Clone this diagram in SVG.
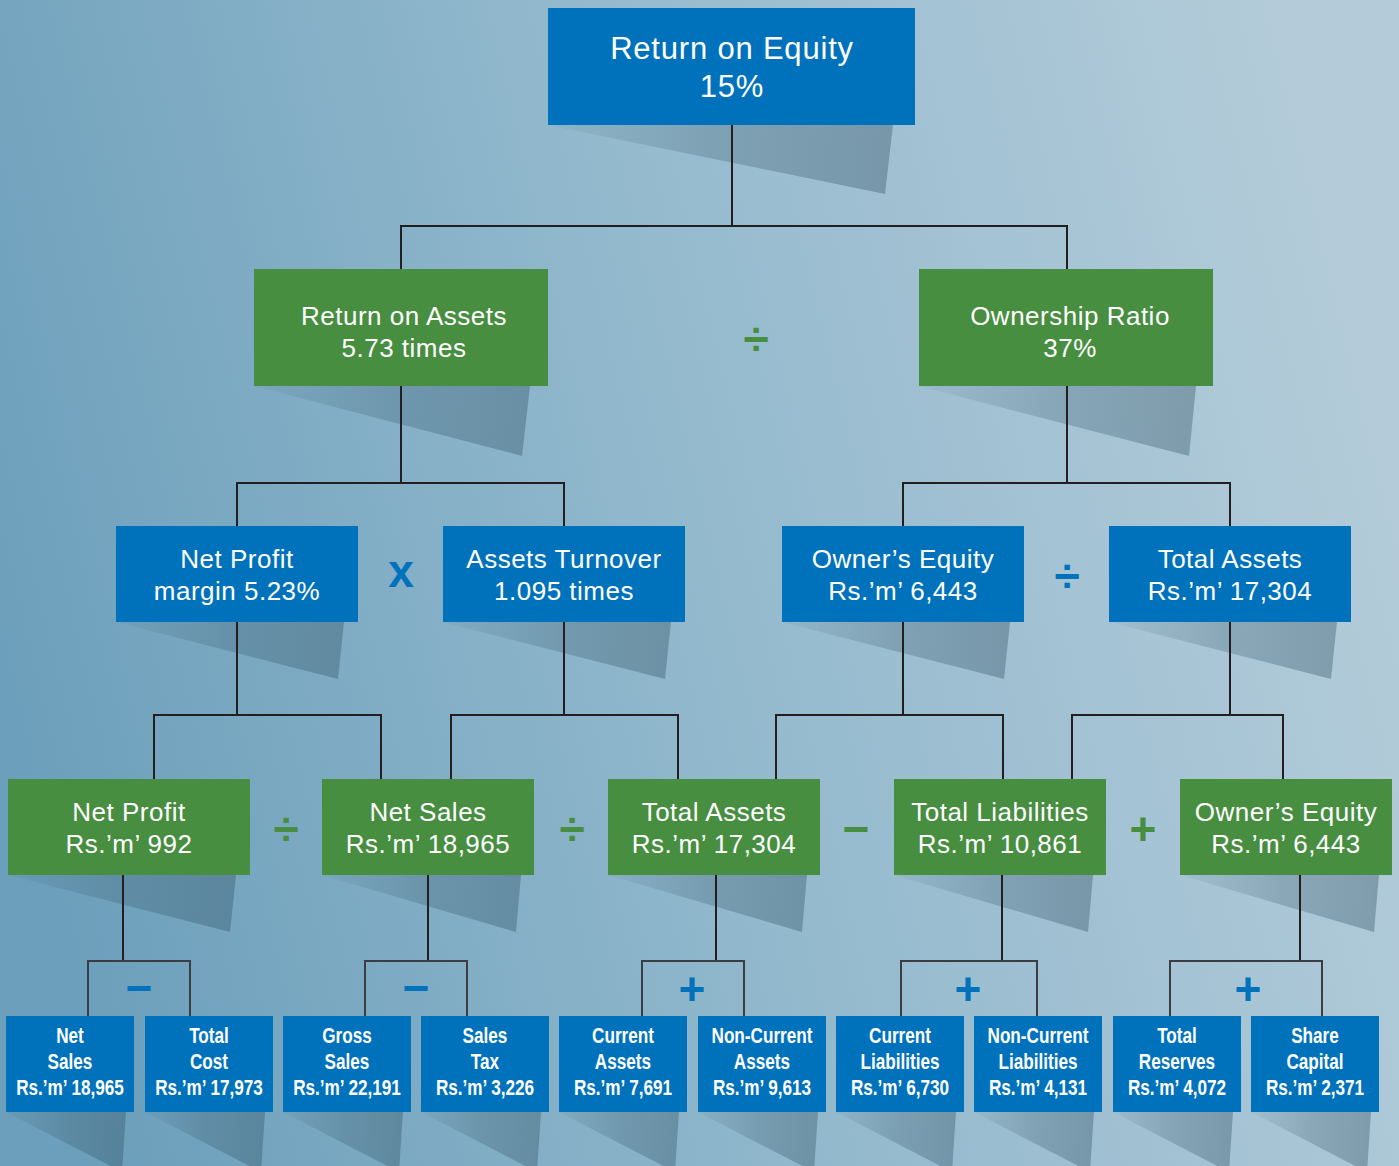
<svg xmlns="http://www.w3.org/2000/svg" width="1399" height="1166" viewBox="0 0 1399 1166">
<defs>
<linearGradient id="bg" x1="0" y1="0.6" x2="1" y2="0.4">
<stop offset="0" stop-color="#6c9fbb"/>
<stop offset="0.5" stop-color="#93b9cd"/>
<stop offset="1" stop-color="#b4ccda"/>
</linearGradient>
<linearGradient id="sh" x1="0" y1="0" x2="1" y2="0">
<stop offset="0" stop-color="#2c4d5f" stop-opacity="0.04"/>
<stop offset="0.5" stop-color="#2c4d5f" stop-opacity="0.25"/>
<stop offset="1" stop-color="#2c4d5f" stop-opacity="0.36"/>
</linearGradient>
<style>
.b{fill:#0072bc}
.g{fill:#478e41}
.s{fill:url(#sh)}
.t1{font-family:"Liberation Sans",Arial,sans-serif;font-size:31px;fill:#fff;text-anchor:middle;letter-spacing:0.8px}
.t{font-family:"Liberation Sans",Arial,sans-serif;font-size:26px;fill:#fff;text-anchor:middle;letter-spacing:0.5px}
.tn{font-family:"Liberation Sans",Arial,sans-serif;font-weight:bold;font-size:22px;fill:#fff;text-anchor:middle}
.op{font-family:"Liberation Sans",Arial,sans-serif;font-weight:bold;font-size:46px;text-anchor:middle}
.ob{fill:#0072bc}
.og{fill:#478e41}
.c{fill:none;stroke:#231f20;stroke-width:2}
.c2{fill:none;stroke:#3a3d42;stroke-width:2}
</style>
</defs>
<rect x="0" y="0" width="1399" height="1166" fill="url(#bg)"/>

<g id="shadows">
<polygon class="s" points="548,125 893,125 885,194"/>
<polygon class="s" points="254,386 530,386 522,456"/>
<polygon class="s" points="919,386 1196,386 1189,456"/>
<polygon class="s" points="116,622 344,622 338,679"/>
<polygon class="s" points="443,622 671,622 665,679"/>
<polygon class="s" points="782,622 1010,622 1004,679"/>
<polygon class="s" points="1109,622 1337,622 1331,679"/>
<polygon class="s" points="8,875 236,875 230,932"/>
<polygon class="s" points="322,875 521,875 516,932"/>
<polygon class="s" points="608,875 807,875 802,932"/>
<polygon class="s" points="894,875 1093,875 1088,932"/>
<polygon class="s" points="1180,875 1379,875 1374,932"/>
<polygon class="s" points="6,1112 126,1112 122,1172"/>
<polygon class="s" points="145,1112 265,1112 261,1172"/>
<polygon class="s" points="283,1112 403,1112 399,1172"/>
<polygon class="s" points="421,1112 541,1112 537,1172"/>
<polygon class="s" points="559,1112 679,1112 675,1172"/>
<polygon class="s" points="698,1112 818,1112 814,1172"/>
<polygon class="s" points="836,1112 956,1112 952,1172"/>
<polygon class="s" points="974,1112 1094,1112 1090,1172"/>
<polygon class="s" points="1113,1112 1233,1112 1229,1172"/>
<polygon class="s" points="1251,1112 1371,1112 1367,1172"/>
</g>

<g id="connectors">
<path class="c" d="M732,125 V226 M401,269 V226 H1067 V269"/>
<path class="c" d="M401,386 V483 M237,526 V483 H564 V526"/>
<path class="c" d="M1067,386 V483 M903,526 V483 H1230 V526"/>
<path class="c" d="M237,622 V715 M154,779 V715 H381 V779"/>
<path class="c" d="M564,622 V715 M451,779 V715 H678 V779"/>
<path class="c" d="M903,622 V715 M776,779 V715 H1003 V779"/>
<path class="c" d="M1230,622 V715 M1072,779 V715 H1283 V779"/>
<path class="c" d="M123,875 V961"/>
<path class="c2" d="M88,1016 V961 H190 V1016"/>
<path class="c" d="M428,875 V961"/>
<path class="c2" d="M365,1016 V961 H467 V1016"/>
<path class="c" d="M716,875 V961"/>
<path class="c2" d="M642,1016 V961 H744 V1016"/>
<path class="c" d="M1002,875 V961"/>
<path class="c2" d="M901,1016 V961 H1037 V1016"/>
<path class="c" d="M1300,875 V961"/>
<path class="c2" d="M1170,1016 V961 H1322 V1016"/>
</g>

<g id="operators">
<text class="op og" x="756" y="355">÷</text>
<text class="op ob" x="401" y="587">x</text>
<text class="op ob" x="1067" y="592">÷</text>
<text class="op og" x="286" y="845">÷</text>
<text class="op og" x="572" y="845">÷</text>
<text class="op og" x="856" y="845">−</text>
<text class="op og" x="1143" y="845">+</text>
<text class="op ob" x="139" y="1004">−</text>
<text class="op ob" x="416" y="1004">−</text>
<text class="op ob" x="692" y="1005">+</text>
<text class="op ob" x="968" y="1005">+</text>
<text class="op ob" x="1248" y="1005">+</text>
</g>

<g id="n-roe"><rect class="b" x="548" y="8" width="367" height="117"/><text class="t1" x="732" y="59">Return on Equity</text><text class="t1" x="732" y="97">15%</text></g>

<g id="n-roa"><rect class="g" x="254" y="269" width="294" height="117"/><text class="t" x="404" y="325">Return on Assets</text><text class="t" x="404" y="357">5.73 times</text></g>
<g id="n-own"><rect class="g" x="919" y="269" width="294" height="117"/><text class="t" x="1070" y="325">Ownership Ratio</text><text class="t" x="1070" y="357">37%</text></g>

<g id="n-npm"><rect class="b" x="116" y="526" width="242" height="96"/><text class="t" x="237" y="568">Net Profit</text><text class="t" x="237" y="600">margin 5.23%</text></g>
<g id="n-at"><rect class="b" x="443" y="526" width="242" height="96"/><text class="t" x="564" y="568">Assets Turnover</text><text class="t" x="564" y="600">1.095 times</text></g>
<g id="n-oe1"><rect class="b" x="782" y="526" width="242" height="96"/><text class="t" x="903" y="568">Owner’s Equity</text><text class="t" x="903" y="600">Rs.’m’ 6,443</text></g>
<g id="n-ta1"><rect class="b" x="1109" y="526" width="242" height="96"/><text class="t" x="1230" y="568">Total Assets</text><text class="t" x="1230" y="600">Rs.’m’ 17,304</text></g>

<g id="n-np"><rect class="g" x="8" y="779" width="242" height="96"/><text class="t" x="129" y="821">Net Profit</text><text class="t" x="129" y="853">Rs.’m’ 992</text></g>
<g id="n-ns"><rect class="g" x="322" y="779" width="212" height="96"/><text class="t" x="428" y="821">Net Sales</text><text class="t" x="428" y="853">Rs.’m’ 18,965</text></g>
<g id="n-ta2"><rect class="g" x="608" y="779" width="212" height="96"/><text class="t" x="714" y="821">Total Assets</text><text class="t" x="714" y="853">Rs.’m’ 17,304</text></g>
<g id="n-tl"><rect class="g" x="894" y="779" width="212" height="96"/><text class="t" x="1000" y="821">Total Liabilities</text><text class="t" x="1000" y="853">Rs.’m’ 10,861</text></g>
<g id="n-oe2"><rect class="g" x="1180" y="779" width="212" height="96"/><text class="t" x="1286" y="821">Owner’s Equity</text><text class="t" x="1286" y="853">Rs.’m’ 6,443</text></g>

<g id="n-ns2"><rect class="b" x="6" y="1016" width="128" height="96"/><g transform="translate(70,0) scale(0.78,1)"><text class="tn" x="0" y="1043">Net</text><text class="tn" x="0" y="1069">Sales</text><text class="tn" x="0" y="1095">Rs.’m’ 18,965</text></g></g>
<g id="n-tc"><rect class="b" x="145" y="1016" width="128" height="96"/><g transform="translate(209,0) scale(0.78,1)"><text class="tn" x="0" y="1043">Total</text><text class="tn" x="0" y="1069">Cost</text><text class="tn" x="0" y="1095">Rs.’m’ 17,973</text></g></g>
<g id="n-gs"><rect class="b" x="283" y="1016" width="128" height="96"/><g transform="translate(347,0) scale(0.78,1)"><text class="tn" x="0" y="1043">Gross</text><text class="tn" x="0" y="1069">Sales</text><text class="tn" x="0" y="1095">Rs.’m’ 22,191</text></g></g>
<g id="n-st"><rect class="b" x="421" y="1016" width="128" height="96"/><g transform="translate(485,0) scale(0.78,1)"><text class="tn" x="0" y="1043">Sales</text><text class="tn" x="0" y="1069">Tax</text><text class="tn" x="0" y="1095">Rs.’m’ 3,226</text></g></g>
<g id="n-ca"><rect class="b" x="559" y="1016" width="128" height="96"/><g transform="translate(623,0) scale(0.78,1)"><text class="tn" x="0" y="1043">Current</text><text class="tn" x="0" y="1069">Assets</text><text class="tn" x="0" y="1095">Rs.’m’ 7,691</text></g></g>
<g id="n-nca"><rect class="b" x="698" y="1016" width="128" height="96"/><g transform="translate(762,0) scale(0.78,1)"><text class="tn" x="0" y="1043">Non-Current</text><text class="tn" x="0" y="1069">Assets</text><text class="tn" x="0" y="1095">Rs.’m’ 9,613</text></g></g>
<g id="n-cl"><rect class="b" x="836" y="1016" width="128" height="96"/><g transform="translate(900,0) scale(0.78,1)"><text class="tn" x="0" y="1043">Current</text><text class="tn" x="0" y="1069">Liabilities</text><text class="tn" x="0" y="1095">Rs.’m’ 6,730</text></g></g>
<g id="n-ncl"><rect class="b" x="974" y="1016" width="128" height="96"/><g transform="translate(1038,0) scale(0.78,1)"><text class="tn" x="0" y="1043">Non-Current</text><text class="tn" x="0" y="1069">Liabilities</text><text class="tn" x="0" y="1095">Rs.’m’ 4,131</text></g></g>
<g id="n-tr"><rect class="b" x="1113" y="1016" width="128" height="96"/><g transform="translate(1177,0) scale(0.78,1)"><text class="tn" x="0" y="1043">Total</text><text class="tn" x="0" y="1069">Reserves</text><text class="tn" x="0" y="1095">Rs.’m’ 4,072</text></g></g>
<g id="n-sc"><rect class="b" x="1251" y="1016" width="128" height="96"/><g transform="translate(1315,0) scale(0.78,1)"><text class="tn" x="0" y="1043">Share</text><text class="tn" x="0" y="1069">Capital</text><text class="tn" x="0" y="1095">Rs.’m’ 2,371</text></g></g>
</svg>
